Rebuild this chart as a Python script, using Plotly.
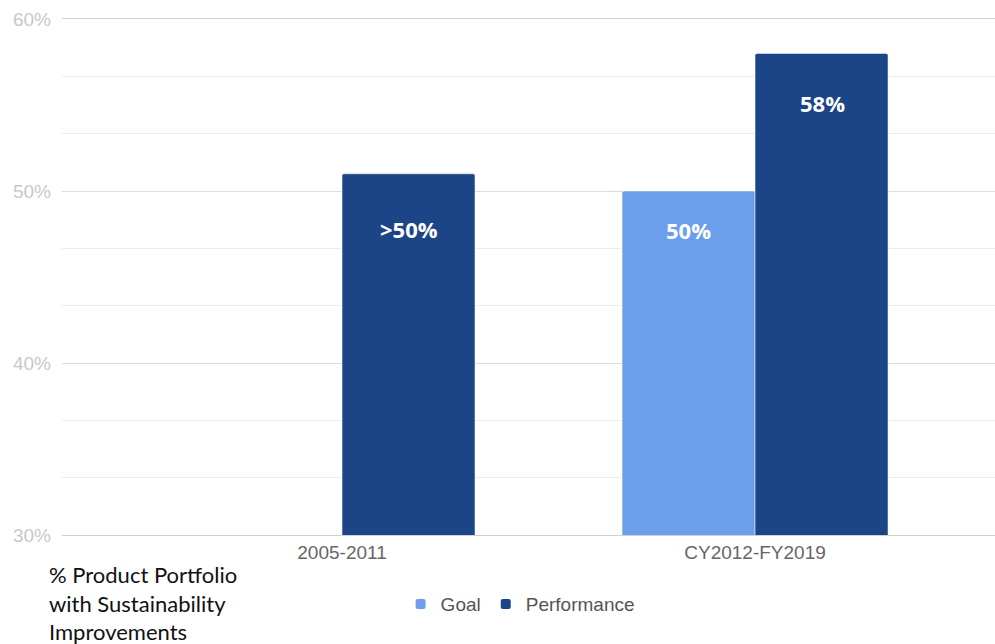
import plotly.graph_objects as go

categories = ["2005-2011", "CY2012-FY2019"]
goal = [None, 50]
performance = [51, 58]
goal_labels = ["", "50%"]
perf_labels = [">50%", "58%"]
y_ticks = [30, 40, 50, 60]
note = "% Product Portfolio<br>with Sustainability<br>Improvements"

GOAL_C = "#6d9eeb"
PERF_C = "#1c4587"
ARIAL = "Arial, Liberation Sans, sans-serif"

fig = go.Figure()
fig.add_trace(go.Bar(name="Goal", x=categories, y=goal,
                     marker=dict(color=GOAL_C, line=dict(width=0.5, color="white")), hoverinfo="skip"))
fig.add_trace(go.Bar(name="Performance", x=categories, y=performance,
                     marker=dict(color=PERF_C, line=dict(width=0.5, color="white")), hoverinfo="skip"))

lab_font = dict(family="Open Sans, Noto Sans, sans-serif", size=22, color="white")
for c, v, t in zip(categories, goal, goal_labels):
    if v is not None and t:
        fig.add_annotation(x=c, y=v, xref="x", yref="y", text="<b>%s</b>" % t, showarrow=False,
                           xshift=-67, yshift=-39, font=lab_font)
shifts = [-55, -50]
for c, v, t, s in zip(categories, performance, perf_labels, shifts):
    fig.add_annotation(x=c, y=v, xref="x", yref="y", text="<b>%s</b>" % t, showarrow=False,
                       xshift=67, yshift=s, font=lab_font)

fig.add_annotation(xref="paper", yref="paper", x=-0.016, y=-0.046, xanchor="left", yanchor="top",
                   text=note, showarrow=False, align="left",
                   font=dict(family="Lato, Noto Sans, sans-serif", size=22, color="#111111"))

fig.update_layout(
    width=995, height=644,
    margin=dict(l=62, r=0, t=19, b=109),
    paper_bgcolor="white", plot_bgcolor="white",
    barmode="group", bargap=0.356, bargroupgap=0,
    barcornerradius=2,
    showlegend=True,
    legend=dict(orientation="h", x=0.491, xanchor="center", y=-0.134, yanchor="middle",
                font=dict(family=ARIAL, size=19, color="#555555"),
                itemsizing="constant", traceorder="normal"),
    font=dict(family=ARIAL),
)
fig.update_xaxes(range=[-0.678, 1.581], showgrid=False, ticks="",
                 showline=True, mirror=True, linecolor="#d0d0d0", linewidth=1,
                 tickfont=dict(family=ARIAL, size=19, color="#666666"))
fig.update_yaxes(range=[30, 60], tickvals=y_ticks, ticktext=["%d%%" % v for v in y_ticks],
                 showgrid=True, gridcolor="#dcdcdc", gridwidth=1, zeroline=False,
                 showline=False, ticks="", ticklabelstandoff=10,
                 tickfont=dict(family=ARIAL, size=19, color="#c8c8c8"),
                 minor=dict(dtick=10/3, tick0=30, showgrid=True, gridcolor="#ececec", gridwidth=1))

fig.write_html("out.html")
